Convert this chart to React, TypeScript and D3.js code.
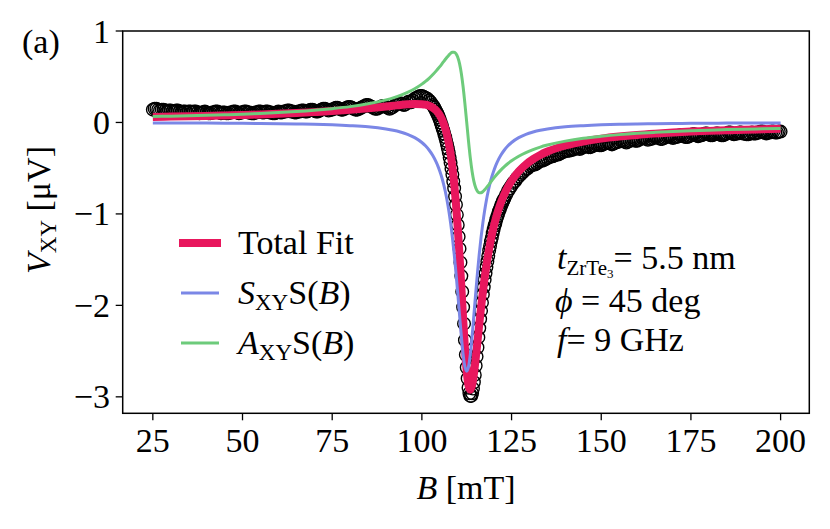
import React from 'react';
import * as d3 from 'd3';

const W = 830;
const H = 529;
const FONT = '"Liberation Serif", "Times New Roman", serif';

const xTicks = [25, 50, 75, 100, 125, 150, 175, 200];
const yTicks = [1, 0, -1, -2, -3];

// measured points (B in mT, V in uV)
const dataB = [
  25, 25.5, 26, 26.5, 27, 27.5, 28, 28.5, 29, 29.5,
  30, 30.5, 31, 31.5, 32, 32.5, 33, 33.5, 34, 34.5,
  35, 35.5, 36, 36.5, 37, 37.5, 38, 38.5, 39, 39.5,
  40, 40.5, 41, 41.5, 42, 42.5, 43, 43.5, 44, 44.5,
  45, 45.5, 46, 46.5, 47, 47.5, 48, 48.5, 49, 49.5,
  50, 50.5, 51, 51.5, 52, 52.5, 53, 53.5, 54, 54.5,
  55, 55.5, 56, 56.5, 57, 57.5, 58, 58.5, 59, 59.5,
  60, 60.5, 61, 61.5, 62, 62.5, 63, 63.5, 64, 64.5,
  65, 65.5, 66, 66.5, 67, 67.5, 68, 68.5, 69, 69.5,
  70, 70.5, 71, 71.5, 72, 72.5, 73, 73.5, 74, 74.5,
  75, 75.5, 76, 76.5, 77, 77.5, 78, 78.5, 79, 79.5,
  80, 80.5, 81, 81.5, 82, 82.5, 83, 83.5, 84, 84.5,
  85, 85.5, 86, 86.5, 87, 87.5, 88, 88.5, 89, 89.5,
  90, 90.5, 91, 91.5, 92, 92.5, 93, 93.5, 94, 94.5,
  95,
  95.5, 96, 96.5, 97, 97.5, 98, 98.5, 99, 99.5, 100,
  100.5, 101, 101.5, 102, 102.5,
  103, 103.25, 103.5, 103.75, 104, 104.25, 104.5, 104.75, 105, 105.25,
  105.5, 105.75, 106, 106.25, 106.5, 106.75, 107, 107.25, 107.5, 107.75,
  108, 108.25, 108.5, 108.75, 109, 109.25, 109.5, 109.75, 110, 110.25,
  110.5, 110.75, 111, 111.25, 111.5, 111.75, 112, 112.25, 112.5, 112.75,
  113, 113.25, 113.5, 113.75, 114, 114.25, 114.5, 114.75, 115, 115.25,
  115.5, 115.75, 116, 116.25, 116.5, 116.75, 117, 117.25, 117.5, 117.75,
  118, 118.25, 118.5, 118.75, 119, 119.25, 119.5, 119.75, 120, 120.25,
  120.5, 120.75, 121, 121.25, 121.5, 121.75, 122, 122.25, 122.5, 122.75,
  123,
  123.5, 124, 124.5, 125, 125.5, 126, 126.5, 127, 127.5, 128,
  128.5, 129, 129.5, 130,
  130.5, 131, 131.5, 132, 132.5, 133, 133.5, 134, 134.5, 135,
  135.5, 136, 136.5, 137, 137.5, 138, 138.5, 139, 139.5, 140,
  140.5, 141, 141.5, 142, 142.5, 143, 143.5, 144, 144.5, 145,
  145.5, 146, 146.5, 147, 147.5, 148, 148.5, 149, 149.5, 150,
  150.5, 151, 151.5, 152, 152.5, 153, 153.5, 154, 154.5, 155,
  155.5, 156, 156.5, 157, 157.5, 158, 158.5, 159, 159.5, 160,
  160.5, 161, 161.5, 162, 162.5, 163, 163.5, 164, 164.5, 165,
  165.5, 166, 166.5, 167, 167.5, 168, 168.5, 169, 169.5, 170,
  170.5, 171, 171.5, 172, 172.5, 173, 173.5, 174, 174.5, 175,
  175.5, 176, 176.5, 177, 177.5, 178, 178.5, 179, 179.5, 180,
  180.5, 181, 181.5, 182, 182.5, 183, 183.5, 184, 184.5, 185,
  185.5, 186, 186.5, 187, 187.5, 188, 188.5, 189, 189.5, 190,
  190.5, 191, 191.5, 192, 192.5, 193, 193.5, 194, 194.5, 195,
  195.5, 196, 196.5, 197, 197.5, 198, 198.5, 199, 199.5, 200,
];
const dataV = [
  0.14, 0.15, 0.15, 0.14, 0.13, 0.14, 0.14, 0.13, 0.12, 0.13,
  0.13, 0.12, 0.12, 0.13, 0.13, 0.12, 0.11, 0.12, 0.12, 0.11,
  0.12, 0.12, 0.11, 0.12, 0.12, 0.11, 0.10, 0.11, 0.11, 0.12,
  0.11, 0.10, 0.10, 0.11, 0.11, 0.12, 0.12, 0.11, 0.10, 0.11,
  0.11, 0.10, 0.10, 0.11, 0.11, 0.12, 0.12, 0.11, 0.10, 0.11,
  0.11, 0.12, 0.12, 0.11, 0.11, 0.10, 0.10, 0.11, 0.11, 0.12,
  0.12, 0.11, 0.11, 0.12, 0.12, 0.11, 0.11, 0.10, 0.10, 0.11,
  0.12, 0.11, 0.11, 0.12, 0.12, 0.13, 0.13, 0.12, 0.12, 0.11,
  0.11, 0.12, 0.12, 0.13, 0.13, 0.12, 0.12, 0.13, 0.14, 0.14,
  0.13, 0.12, 0.12, 0.13, 0.14, 0.15, 0.15, 0.14, 0.13, 0.14,
  0.14, 0.15, 0.16, 0.16, 0.15, 0.14, 0.14, 0.15, 0.16, 0.17,
  0.17, 0.16, 0.15, 0.14, 0.14, 0.15, 0.16, 0.17, 0.18, 0.19,
  0.19, 0.18, 0.17, 0.16, 0.15, 0.15, 0.16, 0.17, 0.18, 0.18,
  0.17, 0.16, 0.15, 0.16, 0.17, 0.19, 0.20, 0.21, 0.21, 0.20,
  0.19,
  0.20, 0.22, 0.23, 0.22, 0.24, 0.26, 0.27, 0.28, 0.29, 0.29,
  0.28, 0.27, 0.26, 0.24, 0.22,
  0.19, 0.175, 0.16, 0.14, 0.12, 0.10, 0.08, 0.055, 0.03, 0.0,
  -0.03, -0.06, -0.09, -0.125, -0.16, -0.2, -0.24, -0.285, -0.33, -0.385,
  -0.44, -0.505, -0.57, -0.645, -0.72, -0.81, -0.9, -1.01, -1.12, -1.25,
  -1.38, -1.53, -1.68, -1.85, -2.02, -2.2, -2.38, -2.54, -2.68, -2.8,
  -2.9, -2.96, -2.99, -2.99, -2.96, -2.91, -2.84, -2.76, -2.66, -2.56,
  -2.46, -2.35, -2.25, -2.15, -2.06, -1.97, -1.88, -1.8, -1.72, -1.65,
  -1.58, -1.52, -1.46, -1.4, -1.35, -1.3, -1.26, -1.21, -1.17, -1.13,
  -1.1, -1.06, -1.03, -1.0, -0.97, -0.945, -0.92, -0.895, -0.87, -0.85,
  -0.83,
  -0.79, -0.75, -0.72, -0.69, -0.66, -0.64, -0.61, -0.59, -0.57, -0.55,
  -0.53, -0.51, -0.5, -0.48,
  -0.47, -0.46, -0.46, -0.45, -0.43, -0.42, -0.42, -0.41, -0.40, -0.39,
  -0.38, -0.37, -0.37, -0.36, -0.35, -0.35, -0.34, -0.33, -0.32, -0.31,
  -0.31, -0.31, -0.30, -0.30, -0.29, -0.28, -0.28, -0.29, -0.28, -0.27,
  -0.26, -0.26, -0.27, -0.27, -0.26, -0.25, -0.24, -0.24, -0.25, -0.25,
  -0.24, -0.23, -0.22, -0.22, -0.23, -0.24, -0.23, -0.22, -0.21, -0.21,
  -0.20, -0.20, -0.21, -0.22, -0.21, -0.20, -0.19, -0.19, -0.20, -0.20,
  -0.19, -0.18, -0.17, -0.17, -0.18, -0.19, -0.18, -0.18, -0.17, -0.16,
  -0.16, -0.17, -0.18, -0.18, -0.17, -0.16, -0.15, -0.15, -0.16, -0.17,
  -0.16, -0.16, -0.15, -0.14, -0.14, -0.15, -0.16, -0.16, -0.15, -0.14,
  -0.13, -0.13, -0.14, -0.15, -0.14, -0.14, -0.13, -0.12, -0.12, -0.13,
  -0.14, -0.14, -0.13, -0.12, -0.12, -0.13, -0.14, -0.14, -0.13, -0.12,
  -0.11, -0.11, -0.12, -0.13, -0.12, -0.12, -0.11, -0.11, -0.12, -0.12,
  -0.13, -0.13, -0.12, -0.11, -0.12, -0.12, -0.11, -0.11, -0.10, -0.10,
  -0.11, -0.12, -0.11, -0.11, -0.10, -0.10, -0.11, -0.11, -0.10, -0.10,
];

// fitted curves sampled at fitB
const fitB = [
  25, 30, 35, 40, 45, 50, 55, 60, 65, 70,
  75, 80, 85, 90, 92, 94, 96, 98, 100, 101,
  102, 103, 104, 104.5, 105, 105.5, 106, 106.5, 107, 107.5,
  108, 108.5, 109, 109.5, 110, 110.5, 111, 111.5, 112, 112.5,
  113, 113.5, 114, 114.5, 115, 115.5, 116, 116.5, 117, 117.5,
  118, 118.5, 119, 119.5, 120, 120.5, 121, 122, 123, 124,
  125, 127, 129, 131, 133, 135, 140, 145, 150, 155,
  160, 165, 170, 175, 180, 185, 190, 195, 200,
];
const fitTotal = [
  0.060, 0.064, 0.067, 0.071, 0.076, 0.081, 0.088, 0.095, 0.103, 0.113,
  0.124, 0.138, 0.155, 0.175, 0.183, 0.192, 0.199, 0.203, 0.200, 0.194,
  0.182, 0.162, 0.130, 0.107, 0.079, 0.042, -0.004, -0.062, -0.135, -0.227,
  -0.342, -0.487, -0.667, -0.888, -1.154, -1.461, -1.800, -2.147, -2.467, -2.720,
  -2.876, -2.923, -2.872, -2.749, -2.582, -2.395, -2.205, -2.022, -1.853, -1.699,
  -1.561, -1.438, -1.328, -1.231, -1.144, -1.067, -0.997, -0.879, -0.784, -0.704,
  -0.639, -0.536, -0.459, -0.401, -0.355, -0.318, -0.252, -0.208, -0.177, -0.154,
  -0.136, -0.122, -0.110, -0.100, -0.092, -0.086, -0.080, -0.075, -0.070,
];
const fitSym = [
  -0.005, -0.005, -0.006, -0.007, -0.008, -0.010, -0.011, -0.013, -0.016, -0.020,
  -0.026, -0.035, -0.048, -0.072, -0.086, -0.105, -0.130, -0.166, -0.219, -0.255,
  -0.301, -0.359, -0.434, -0.480, -0.533, -0.594, -0.666, -0.750, -0.848, -0.963,
  -1.098, -1.255, -1.436, -1.642, -1.868, -2.105, -2.336, -2.535, -2.671, -2.720,
  -2.671, -2.535, -2.336, -2.105, -1.868, -1.642, -1.436, -1.255, -1.098, -0.963,
  -0.848, -0.750, -0.666, -0.594, -0.533, -0.480, -0.434, -0.359, -0.301, -0.255,
  -0.219, -0.166, -0.130, -0.105, -0.086, -0.072, -0.048, -0.035, -0.026, -0.020,
  -0.016, -0.013, -0.011, -0.010, -0.008, -0.007, -0.006, -0.005, -0.005,
];
const fitAsym = [
  0.065, 0.069, 0.073, 0.078, 0.084, 0.091, 0.099, 0.108, 0.119, 0.133,
  0.151, 0.173, 0.204, 0.247, 0.269, 0.296, 0.329, 0.369, 0.419, 0.449,
  0.483, 0.521, 0.564, 0.587, 0.611, 0.636, 0.662, 0.688, 0.713, 0.736,
  0.756, 0.768, 0.769, 0.753, 0.714, 0.644, 0.536, 0.388, 0.204, 0.0,
  -0.204, -0.388, -0.536, -0.644, -0.714, -0.753, -0.769, -0.768, -0.756, -0.736,
  -0.713, -0.688, -0.662, -0.636, -0.611, -0.587, -0.564, -0.521, -0.483, -0.449,
  -0.419, -0.369, -0.329, -0.296, -0.269, -0.247, -0.204, -0.173, -0.151, -0.133,
  -0.119, -0.108, -0.099, -0.091, -0.084, -0.078, -0.073, -0.069, -0.065,
];

const COL_TOTAL = '#e8175d';
const COL_SYM = '#7b87e6';
const COL_ASYM = '#6dcb7b';

export default function App() {
  // plot frame in px
  const m = { left: 122.7, right: 809.3, top: 31, bottom: 413.3 };
  const x = d3.scaleLinear().domain([16.6, 208.0]).range([m.left, m.right]);
  const y = d3.scaleLinear().domain([-3.18, 1]).range([m.bottom, m.top]);

  const fitPath = (vals: number[]) =>
    d3.line<number>()
      .x((_, i) => x(fitB[i]))
      .y(d => y(d))
      .curve(d3.curveMonotoneX)(vals) ?? '';

  const pts = dataB.slice(0, Math.min(dataB.length, dataV.length));

  const fs = 34;
  const legendY = [243, 293, 343];

  return (
    <svg width={W} height={H} style={{ position: 'absolute', left: 0, top: 0, background: '#fff' }}
      fontFamily={FONT}>
      <defs>
        <clipPath id="plotclip">
          <rect x={m.left} y={m.top} width={m.right - m.left} height={m.bottom - m.top} />
        </clipPath>
      </defs>

      <g clipPath="url(#plotclip)">
        {pts.map((b, i) => (
          <circle key={i} cx={x(b)} cy={y(dataV[i])} r={6.3} fill="none" stroke="#000" strokeWidth={1.4} />
        ))}
        <path d={fitPath(fitTotal)} fill="none" stroke={COL_TOTAL} strokeWidth={8} strokeLinejoin="round" />
        <path d={fitPath(fitSym)} fill="none" stroke={COL_SYM} strokeWidth={3} strokeLinejoin="round" />
        <path d={fitPath(fitAsym)} fill="none" stroke={COL_ASYM} strokeWidth={3} strokeLinejoin="round" />
      </g>

      {/* frame */}
      <rect x={m.left} y={m.top} width={m.right - m.left} height={m.bottom - m.top}
        fill="none" stroke="#000" strokeWidth={1.5} />

      {/* x ticks */}
      {xTicks.map(t => (
        <g key={t}>
          <line x1={x(t)} x2={x(t)} y1={m.bottom} y2={m.bottom + 7} stroke="#000" strokeWidth={1.3} />
          <text x={x(t)} y={452} fontSize={fs} textAnchor="middle">{t}</text>
        </g>
      ))}
      {/* y ticks */}
      {yTicks.map(t => (
        <g key={t}>
          <line x1={m.left - 7} x2={m.left} y1={y(t)} y2={y(t)} stroke="#000" strokeWidth={1.3} />
          <text x={110} y={y(t) + 11.5} fontSize={fs} textAnchor="end">{t < 0 ? `\u2212${-t}` : t}</text>
        </g>
      ))}

      {/* axis labels */}
      <text x={(m.left + m.right) / 2} y={499} fontSize={fs} textAnchor="middle">
        <tspan fontStyle="italic">B</tspan> [mT]
      </text>
      <text transform="translate(50,210) rotate(-90)" fontSize={fs} textAnchor="middle">
        <tspan fontStyle="italic">V</tspan>
        <tspan fontSize={23} dy={6}>XY</tspan>
        <tspan dy={-6}> [μV]</tspan>
      </text>

      <text x={22} y={53} fontSize={fs}>(a)</text>

      {/* legend */}
      <line x1={179} x2={221} y1={legendY[0]} y2={legendY[0]} stroke={COL_TOTAL} strokeWidth={8} />
      <line x1={181} x2={219} y1={legendY[1]} y2={legendY[1]} stroke={COL_SYM} strokeWidth={3} />
      <line x1={181} x2={219} y1={legendY[2]} y2={legendY[2]} stroke={COL_ASYM} strokeWidth={3} />
      <text x={238} y={legendY[0] + 11} fontSize={fs}>Total Fit</text>
      <text x={238} y={legendY[1] + 11} fontSize={fs}>
        <tspan fontStyle="italic">S</tspan>
        <tspan fontSize={23} dy={6}>XY</tspan>
        <tspan dy={-6}>S(</tspan>
        <tspan fontStyle="italic">B</tspan>
        <tspan>)</tspan>
      </text>
      <text x={238} y={legendY[2] + 11} fontSize={fs}>
        <tspan fontStyle="italic">A</tspan>
        <tspan fontSize={23} dy={6}>XY</tspan>
        <tspan dy={-6}>S(</tspan>
        <tspan fontStyle="italic">B</tspan>
        <tspan>)</tspan>
      </text>

      {/* annotation */}
      <text x={557} y={269} fontSize={fs}>
        <tspan fontStyle="italic">t</tspan>
        <tspan fontSize={21} dy={6}>ZrTe</tspan>
        <tspan fontSize={13} dy={3}>3</tspan>
        <tspan dy={-9}>= 5.5 nm</tspan>
      </text>
      <text x={555} y={312} fontSize={fs}>
        <tspan fontStyle="italic">ϕ</tspan> = 45 deg
      </text>
      <text x={557} y={351} fontSize={fs}>
        <tspan fontStyle="italic">f</tspan>= 9 GHz
      </text>
    </svg>
  );
}
